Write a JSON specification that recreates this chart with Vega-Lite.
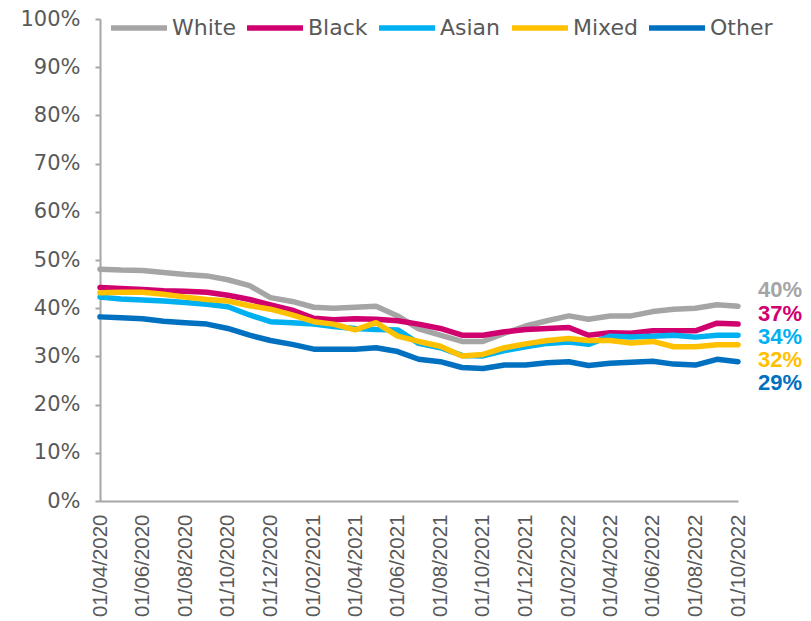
{
  "$schema": "https://vega.github.io/schema/vega-lite/v6.json",
  "width": 638,
  "height": 482,
  "autosize": {"type": "none"},
  "padding": {"left": 100, "top": 19, "right": 73, "bottom": 120},
  "background": "white",
  "config": {
    "view": {"stroke": null},
    "font": "Liberation Sans",
    "axis": {
      "grid": false,
      "domainColor": "#A6A6A6",
      "domainWidth": 2,
      "tickColor": "#A6A6A6",
      "tickWidth": 2,
      "labelColor": "#595959",
      "labelFont": "Liberation Sans",
      "labelFontSize": 20,
      "title": null
    }
  },
  "data": {
    "values": [
      {"date": "2020-04-01", "race": "White", "value": 0.481},
      {"date": "2020-05-01", "race": "White", "value": 0.479},
      {"date": "2020-06-01", "race": "White", "value": 0.478},
      {"date": "2020-07-01", "race": "White", "value": 0.474},
      {"date": "2020-08-01", "race": "White", "value": 0.470},
      {"date": "2020-09-01", "race": "White", "value": 0.467},
      {"date": "2020-10-01", "race": "White", "value": 0.459},
      {"date": "2020-11-01", "race": "White", "value": 0.447},
      {"date": "2020-12-01", "race": "White", "value": 0.422},
      {"date": "2021-01-01", "race": "White", "value": 0.414},
      {"date": "2021-02-01", "race": "White", "value": 0.402},
      {"date": "2021-03-01", "race": "White", "value": 0.400},
      {"date": "2021-04-01", "race": "White", "value": 0.402},
      {"date": "2021-05-01", "race": "White", "value": 0.404},
      {"date": "2021-06-01", "race": "White", "value": 0.384},
      {"date": "2021-07-01", "race": "White", "value": 0.357},
      {"date": "2021-08-01", "race": "White", "value": 0.344},
      {"date": "2021-09-01", "race": "White", "value": 0.331},
      {"date": "2021-10-01", "race": "White", "value": 0.331},
      {"date": "2021-11-01", "race": "White", "value": 0.348},
      {"date": "2021-12-01", "race": "White", "value": 0.363},
      {"date": "2022-01-01", "race": "White", "value": 0.374},
      {"date": "2022-02-01", "race": "White", "value": 0.384},
      {"date": "2022-03-01", "race": "White", "value": 0.377},
      {"date": "2022-04-01", "race": "White", "value": 0.384},
      {"date": "2022-05-01", "race": "White", "value": 0.384},
      {"date": "2022-06-01", "race": "White", "value": 0.393},
      {"date": "2022-07-01", "race": "White", "value": 0.398},
      {"date": "2022-08-01", "race": "White", "value": 0.400},
      {"date": "2022-09-01", "race": "White", "value": 0.407},
      {"date": "2022-10-01", "race": "White", "value": 0.404},

      {"date": "2020-04-01", "race": "Black", "value": 0.443},
      {"date": "2020-05-01", "race": "Black", "value": 0.441},
      {"date": "2020-06-01", "race": "Black", "value": 0.439},
      {"date": "2020-07-01", "race": "Black", "value": 0.436},
      {"date": "2020-08-01", "race": "Black", "value": 0.435},
      {"date": "2020-09-01", "race": "Black", "value": 0.433},
      {"date": "2020-10-01", "race": "Black", "value": 0.427},
      {"date": "2020-11-01", "race": "Black", "value": 0.418},
      {"date": "2020-12-01", "race": "Black", "value": 0.407},
      {"date": "2021-01-01", "race": "Black", "value": 0.396},
      {"date": "2021-02-01", "race": "Black", "value": 0.379},
      {"date": "2021-03-01", "race": "Black", "value": 0.376},
      {"date": "2021-04-01", "race": "Black", "value": 0.378},
      {"date": "2021-05-01", "race": "Black", "value": 0.377},
      {"date": "2021-06-01", "race": "Black", "value": 0.374},
      {"date": "2021-07-01", "race": "Black", "value": 0.367},
      {"date": "2021-08-01", "race": "Black", "value": 0.358},
      {"date": "2021-09-01", "race": "Black", "value": 0.344},
      {"date": "2021-10-01", "race": "Black", "value": 0.344},
      {"date": "2021-11-01", "race": "Black", "value": 0.351},
      {"date": "2021-12-01", "race": "Black", "value": 0.356},
      {"date": "2022-01-01", "race": "Black", "value": 0.358},
      {"date": "2022-02-01", "race": "Black", "value": 0.360},
      {"date": "2022-03-01", "race": "Black", "value": 0.344},
      {"date": "2022-04-01", "race": "Black", "value": 0.349},
      {"date": "2022-05-01", "race": "Black", "value": 0.348},
      {"date": "2022-06-01", "race": "Black", "value": 0.353},
      {"date": "2022-07-01", "race": "Black", "value": 0.353},
      {"date": "2022-08-01", "race": "Black", "value": 0.353},
      {"date": "2022-09-01", "race": "Black", "value": 0.369},
      {"date": "2022-10-01", "race": "Black", "value": 0.367},

      {"date": "2020-04-01", "race": "Asian", "value": 0.423},
      {"date": "2020-05-01", "race": "Asian", "value": 0.419},
      {"date": "2020-06-01", "race": "Asian", "value": 0.417},
      {"date": "2020-07-01", "race": "Asian", "value": 0.415},
      {"date": "2020-08-01", "race": "Asian", "value": 0.412},
      {"date": "2020-09-01", "race": "Asian", "value": 0.408},
      {"date": "2020-10-01", "race": "Asian", "value": 0.403},
      {"date": "2020-11-01", "race": "Asian", "value": 0.386},
      {"date": "2020-12-01", "race": "Asian", "value": 0.372},
      {"date": "2021-01-01", "race": "Asian", "value": 0.370},
      {"date": "2021-02-01", "race": "Asian", "value": 0.367},
      {"date": "2021-03-01", "race": "Asian", "value": 0.362},
      {"date": "2021-04-01", "race": "Asian", "value": 0.358},
      {"date": "2021-05-01", "race": "Asian", "value": 0.356},
      {"date": "2021-06-01", "race": "Asian", "value": 0.355},
      {"date": "2021-07-01", "race": "Asian", "value": 0.327},
      {"date": "2021-08-01", "race": "Asian", "value": 0.318},
      {"date": "2021-09-01", "race": "Asian", "value": 0.302},
      {"date": "2021-10-01", "race": "Asian", "value": 0.301},
      {"date": "2021-11-01", "race": "Asian", "value": 0.312},
      {"date": "2021-12-01", "race": "Asian", "value": 0.320},
      {"date": "2022-01-01", "race": "Asian", "value": 0.327},
      {"date": "2022-02-01", "race": "Asian", "value": 0.330},
      {"date": "2022-03-01", "race": "Asian", "value": 0.325},
      {"date": "2022-04-01", "race": "Asian", "value": 0.342},
      {"date": "2022-05-01", "race": "Asian", "value": 0.340},
      {"date": "2022-06-01", "race": "Asian", "value": 0.342},
      {"date": "2022-07-01", "race": "Asian", "value": 0.344},
      {"date": "2022-08-01", "race": "Asian", "value": 0.340},
      {"date": "2022-09-01", "race": "Asian", "value": 0.344},
      {"date": "2022-10-01", "race": "Asian", "value": 0.344},

      {"date": "2020-04-01", "race": "Mixed", "value": 0.432},
      {"date": "2020-05-01", "race": "Mixed", "value": 0.433},
      {"date": "2020-06-01", "race": "Mixed", "value": 0.433},
      {"date": "2020-07-01", "race": "Mixed", "value": 0.429},
      {"date": "2020-08-01", "race": "Mixed", "value": 0.423},
      {"date": "2020-09-01", "race": "Mixed", "value": 0.418},
      {"date": "2020-10-01", "race": "Mixed", "value": 0.415},
      {"date": "2020-11-01", "race": "Mixed", "value": 0.405},
      {"date": "2020-12-01", "race": "Mixed", "value": 0.398},
      {"date": "2021-01-01", "race": "Mixed", "value": 0.386},
      {"date": "2021-02-01", "race": "Mixed", "value": 0.372},
      {"date": "2021-03-01", "race": "Mixed", "value": 0.367},
      {"date": "2021-04-01", "race": "Mixed", "value": 0.355},
      {"date": "2021-05-01", "race": "Mixed", "value": 0.370},
      {"date": "2021-06-01", "race": "Mixed", "value": 0.342},
      {"date": "2021-07-01", "race": "Mixed", "value": 0.331},
      {"date": "2021-08-01", "race": "Mixed", "value": 0.321},
      {"date": "2021-09-01", "race": "Mixed", "value": 0.301},
      {"date": "2021-10-01", "race": "Mixed", "value": 0.304},
      {"date": "2021-11-01", "race": "Mixed", "value": 0.318},
      {"date": "2021-12-01", "race": "Mixed", "value": 0.326},
      {"date": "2022-01-01", "race": "Mixed", "value": 0.333},
      {"date": "2022-02-01", "race": "Mixed", "value": 0.337},
      {"date": "2022-03-01", "race": "Mixed", "value": 0.333},
      {"date": "2022-04-01", "race": "Mixed", "value": 0.333},
      {"date": "2022-05-01", "race": "Mixed", "value": 0.328},
      {"date": "2022-06-01", "race": "Mixed", "value": 0.331},
      {"date": "2022-07-01", "race": "Mixed", "value": 0.320},
      {"date": "2022-08-01", "race": "Mixed", "value": 0.320},
      {"date": "2022-09-01", "race": "Mixed", "value": 0.324},
      {"date": "2022-10-01", "race": "Mixed", "value": 0.324},

      {"date": "2020-04-01", "race": "Other", "value": 0.382},
      {"date": "2020-05-01", "race": "Other", "value": 0.380},
      {"date": "2020-06-01", "race": "Other", "value": 0.378},
      {"date": "2020-07-01", "race": "Other", "value": 0.373},
      {"date": "2020-08-01", "race": "Other", "value": 0.370},
      {"date": "2020-09-01", "race": "Other", "value": 0.367},
      {"date": "2020-10-01", "race": "Other", "value": 0.358},
      {"date": "2020-11-01", "race": "Other", "value": 0.344},
      {"date": "2020-12-01", "race": "Other", "value": 0.333},
      {"date": "2021-01-01", "race": "Other", "value": 0.325},
      {"date": "2021-02-01", "race": "Other", "value": 0.315},
      {"date": "2021-03-01", "race": "Other", "value": 0.315},
      {"date": "2021-04-01", "race": "Other", "value": 0.315},
      {"date": "2021-05-01", "race": "Other", "value": 0.318},
      {"date": "2021-06-01", "race": "Other", "value": 0.310},
      {"date": "2021-07-01", "race": "Other", "value": 0.294},
      {"date": "2021-08-01", "race": "Other", "value": 0.289},
      {"date": "2021-09-01", "race": "Other", "value": 0.277},
      {"date": "2021-10-01", "race": "Other", "value": 0.275},
      {"date": "2021-11-01", "race": "Other", "value": 0.282},
      {"date": "2021-12-01", "race": "Other", "value": 0.282},
      {"date": "2022-01-01", "race": "Other", "value": 0.287},
      {"date": "2022-02-01", "race": "Other", "value": 0.289},
      {"date": "2022-03-01", "race": "Other", "value": 0.281},
      {"date": "2022-04-01", "race": "Other", "value": 0.286},
      {"date": "2022-05-01", "race": "Other", "value": 0.288},
      {"date": "2022-06-01", "race": "Other", "value": 0.290},
      {"date": "2022-07-01", "race": "Other", "value": 0.284},
      {"date": "2022-08-01", "race": "Other", "value": 0.282},
      {"date": "2022-09-01", "race": "Other", "value": 0.294},
      {"date": "2022-10-01", "race": "Other", "value": 0.289}
    ]
  },
  "encoding": {
    "x": {
      "field": "date",
      "type": "temporal",
      "scale": {
        "type": "utc",
        "domain": [
          {"year": 2020, "month": 4, "date": 1, "utc": true},
          {"year": 2022, "month": 10, "date": 1, "utc": true}
        ]
      },
      "axis": {
        "format": "%d/%m/%Y",
        "labelAngle": -90,
        "ticks": false,
        "labelPadding": 13,
        "labelFontSize": 20.5,
        "labelOverlap": false,
        "values": [
          {"year": 2020, "month": 4, "date": 1, "utc": true},
          {"year": 2020, "month": 6, "date": 1, "utc": true},
          {"year": 2020, "month": 8, "date": 1, "utc": true},
          {"year": 2020, "month": 10, "date": 1, "utc": true},
          {"year": 2020, "month": 12, "date": 1, "utc": true},
          {"year": 2021, "month": 2, "date": 1, "utc": true},
          {"year": 2021, "month": 4, "date": 1, "utc": true},
          {"year": 2021, "month": 6, "date": 1, "utc": true},
          {"year": 2021, "month": 8, "date": 1, "utc": true},
          {"year": 2021, "month": 10, "date": 1, "utc": true},
          {"year": 2021, "month": 12, "date": 1, "utc": true},
          {"year": 2022, "month": 2, "date": 1, "utc": true},
          {"year": 2022, "month": 4, "date": 1, "utc": true},
          {"year": 2022, "month": 6, "date": 1, "utc": true},
          {"year": 2022, "month": 8, "date": 1, "utc": true},
          {"year": 2022, "month": 10, "date": 1, "utc": true}
        ]
      }
    },
    "y": {
      "field": "value",
      "type": "quantitative",
      "scale": {"domain": [0, 1], "nice": false},
      "axis": {
        "format": ".0%",
        "values": [0, 0.1, 0.2, 0.3, 0.4, 0.5, 0.6, 0.7, 0.8, 0.9, 1],
        "tickSize": 5,
        "labelPadding": 15,
        "labelFont": "DejaVu Sans",
        "labelFontSize": 21
      }
    },
    "color": {
      "field": "race",
      "type": "nominal",
      "scale": {
        "domain": ["White", "Black", "Asian", "Mixed", "Other"],
        "range": ["#A5A5A5", "#D0006F", "#00B0F0", "#FFC000", "#0070C0"]
      },
      "legend": {
        "orient": "none",
        "legendX": 8,
        "legendY": -22,
        "direction": "horizontal",
        "title": null,
        "symbolType": "stroke",
        "symbolSize": 3136,
        "symbolStrokeWidth": 5.5,
        "labelFontSize": 22,
        "labelColor": "#595959",
        "labelFont": "DejaVu Sans",
        "labelOffset": 2,
        "columnPadding": 0,
        "padding": 0
      }
    }
  },
  "layer": [
    {
      "mark": {"type": "line", "strokeWidth": 5.5, "strokeJoin": "round", "strokeCap": "round"}
    },
    {
      "transform": [{"filter": "time(datum.date) === utc(2022, 9, 1)"}],
      "mark": {
        "type": "text",
        "align": "left",
        "baseline": "middle",
        "dx": 20,
        "fontSize": 22,
        "fontWeight": "bold",
        "font": "Liberation Sans",
        "dy": {"expr": "datum.race === 'White' ? -16 : datum.race === 'Black' ? -10 : datum.race === 'Asian' ? 2 : datum.race === 'Mixed' ? 15 : 21"}
      },
      "encoding": {
        "text": {"field": "value", "type": "quantitative", "format": ".0%"}
      }
    }
  ]
}
